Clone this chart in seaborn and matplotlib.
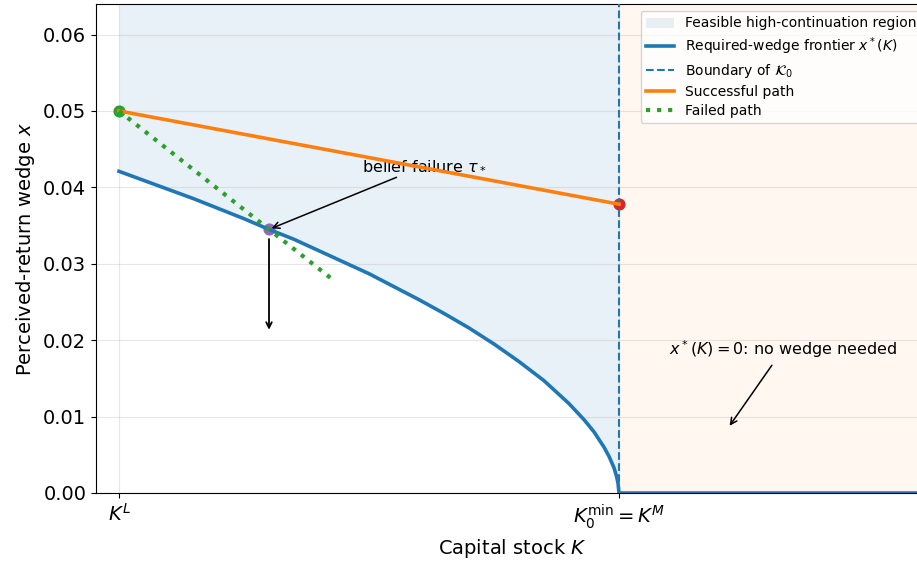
import numpy as np
import pandas as pd
import matplotlib
matplotlib.use("Agg")
import matplotlib.pyplot as plt
import seaborn as sns

# Capital grid (K^L = 0, K^M = 1) and the required-wedge frontier x*(K)
frontier_K = [0.0, 0.05, 0.1, 0.15, 0.2, 0.25, 0.3, 0.35, 0.4, 0.45, 0.5, 0.55, 0.6, 0.65, 0.7, 0.75,
              0.8, 0.85, 0.9, 0.93, 0.95, 0.97, 0.98, 0.99, 0.995, 0.998, 1.0, 1.62]
frontier_x = [0.0421, 0.0409, 0.0397, 0.0385, 0.0372, 0.0359, 0.0345, 0.0332, 0.0317, 0.0302, 0.0287,
              0.0270, 0.0253, 0.0235, 0.0216, 0.0195, 0.0172, 0.0147, 0.0117, 0.0096, 0.0080, 0.0060,
              0.0048, 0.0033, 0.0022, 0.0013, 0.0, 0.0]

# Paths
success_K = [0.0, 1.0]
success_x = [0.050, 0.0378]
failed_K = [0.0, 0.426]
failed_x = [0.050, 0.028]
failure_point = (0.3, 0.0345)

K_L, K_M = 0.0, 1.0
x_lo, x_hi = -0.046, 1.62
y_top = 0.064

C0, C1, C2, C3, C4 = sns.color_palette("tab10")[:5]

fig = plt.figure(figsize=(9.17, 5.65), dpi=100)
ax = fig.add_axes([96 / 917, 72 / 565, (929 - 96) / 917, 489 / 565])

front = pd.DataFrame({"K": frontier_K, "x": frontier_x})
inside = front[front["K"] <= K_M]

# shaded regions
feas = ax.fill_between(inside["K"], inside["x"], y_top, color=C0, alpha=0.1, lw=0,
                       label="Feasible high-continuation region")
ax.axvspan(K_M, x_hi, color=C1, alpha=0.06, lw=0)

# frontier and boundary
sns.lineplot(data=front, x="K", y="x", ax=ax, color=C0, lw=2.6, sort=False, estimator=None, zorder=3)
ax.axvline(K_M, color=C0, ls="--", lw=1.5, zorder=3)

# paths
sns.lineplot(x=success_K, y=success_x, ax=ax, color=C1, lw=2.6, sort=False, estimator=None, zorder=4)
sns.lineplot(x=failed_K, y=failed_x, ax=ax, color=C2, lw=3, ls=":", sort=False, estimator=None, zorder=4)

# markers
ax.scatter([success_K[0]], [success_x[0]], s=60, color=C2, zorder=2.5)
ax.scatter([success_K[1]], [success_x[1]], s=60, color=C3, zorder=2.5)
ax.scatter([failure_point[0]], [failure_point[1]], s=60, color=C4, zorder=2.5)

# annotations
ax.annotate(r"belief failure $\tau_*$", xy=failure_point, xytext=(0.486, 0.0428),
            fontsize=11.5, ha="left", va="center",
            arrowprops=dict(arrowstyle="->", color="black", lw=1.1))
ax.annotate("", xy=(0.3, 0.0210), xytext=(0.3, 0.0336),
            arrowprops=dict(arrowstyle="->", color="black", lw=1.3))
ax.annotate(r"$x^*(K) = 0$: no wedge needed", xy=(1.218, 0.0085), xytext=(1.328, 0.0188),
            fontsize=11.5, ha="center", va="center",
            arrowprops=dict(arrowstyle="->", color="black", lw=1.1))

ax.set_xlim(x_lo, x_hi)
ax.set_ylim(0, y_top)
ax.set_xticks([K_L, K_M])
ax.set_xticklabels([r"$K^L$", r"$K_0^{\min} = K^M$"])
ax.set_yticks(np.arange(0, 0.061, 0.01))
ax.set_yticklabels([f"{v:.2f}" for v in np.arange(0, 0.061, 0.01)])
ax.tick_params(labelsize=14)
ax.set_xlabel(r"Capital stock $K$", fontsize=14)
ax.set_ylabel(r"Perceived-return wedge $x$", fontsize=14)
ax.grid(True, alpha=0.3)

handles = [
    feas,
    plt.Line2D([], [], color=C0, lw=2.6),
    plt.Line2D([], [], color=C0, lw=1.5, ls="--"),
    plt.Line2D([], [], color=C1, lw=2.6),
    plt.Line2D([], [], color=C2, lw=3, ls=":"),
]
labels = [
    "Feasible high-continuation region",
    r"Required-wedge frontier $x^*(K)$",
    r"Boundary of $\mathcal{K}_0$",
    "Successful path",
    "Failed path",
]
ax.legend(handles, labels, loc="upper right", fontsize=10, labelspacing=0.35)

fig.savefig("out.png", dpi=100)
